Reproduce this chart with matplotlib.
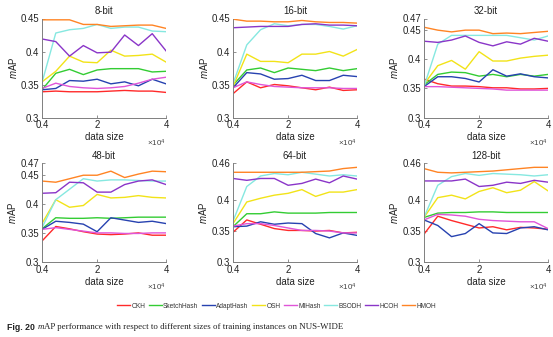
import numpy as np
import matplotlib
matplotlib.use('Agg')
import matplotlib.pyplot as plt

plt.rcParams['font.family'] = ['Liberation Sans', 'DejaVu Sans']
plt.rcParams['mathtext.fontset'] = 'custom'
plt.rcParams['mathtext.it'] = 'Liberation Sans:italic'
plt.rcParams['mathtext.rm'] = 'Liberation Sans'

# data sizes (x 10^4)
sizes = [0.4, 0.8, 1.2, 1.6, 2.0, 2.4, 2.8, 3.2, 3.6, 4.0]
methods = ['OKH', 'SketchHash', 'AdaptHash', 'OSH', 'MIHash', 'BSODH', 'HCOH', 'HMOH']
colors = ['#ff2a2a', '#33cc33', '#2742b0', '#f2e318', '#e055d8', '#86e8e0', '#8a35c8', '#ff8424']
titles = ['8-bit', '16-bit', '32-bit', '48-bit', '64-bit', '128-bit']
ytop = [0.45, 0.45, 0.47, 0.47, 0.46, 0.46]

map_8 = [
    [0.339, 0.340, 0.339, 0.339, 0.339, 0.340, 0.341, 0.340, 0.340, 0.338],
    [0.342, 0.367, 0.373, 0.365, 0.372, 0.374, 0.374, 0.374, 0.369, 0.370],
    [0.342, 0.344, 0.356, 0.355, 0.358, 0.351, 0.354, 0.348, 0.358, 0.351],
    [0.354, 0.370, 0.393, 0.384, 0.383, 0.402, 0.393, 0.394, 0.396, 0.384],
    [0.344, 0.352, 0.347, 0.345, 0.344, 0.345, 0.347, 0.352, 0.358, 0.361],
    [0.353, 0.428, 0.433, 0.435, 0.441, 0.435, 0.437, 0.437, 0.431, 0.430],
    [0.419, 0.415, 0.393, 0.409, 0.398, 0.399, 0.425, 0.409, 0.427, 0.401],
    [0.448, 0.448, 0.448, 0.441, 0.441, 0.438, 0.439, 0.440, 0.440, 0.435],
]
map_16 = [
    [0.336, 0.354, 0.345, 0.350, 0.348, 0.345, 0.342, 0.346, 0.341, 0.342],
    [0.349, 0.372, 0.375, 0.368, 0.375, 0.373, 0.371, 0.375, 0.371, 0.374],
    [0.345, 0.368, 0.366, 0.358, 0.359, 0.364, 0.356, 0.356, 0.364, 0.362],
    [0.347, 0.396, 0.385, 0.385, 0.383, 0.396, 0.396, 0.400, 0.393, 0.403],
    [0.345, 0.354, 0.350, 0.347, 0.346, 0.345, 0.345, 0.345, 0.344, 0.344],
    [0.351, 0.410, 0.433, 0.442, 0.439, 0.441, 0.441, 0.438, 0.434, 0.439],
    [0.436, 0.437, 0.438, 0.438, 0.438, 0.441, 0.442, 0.440, 0.440, 0.439],
    [0.449, 0.446, 0.446, 0.445, 0.445, 0.447, 0.445, 0.444, 0.444, 0.443],
]
map_32 = [
    [0.366, 0.358, 0.354, 0.354, 0.353, 0.351, 0.351, 0.349, 0.349, 0.350],
    [0.356, 0.374, 0.378, 0.377, 0.371, 0.374, 0.370, 0.374, 0.371, 0.374],
    [0.353, 0.370, 0.370, 0.367, 0.361, 0.382, 0.371, 0.375, 0.370, 0.368],
    [0.357, 0.389, 0.398, 0.383, 0.413, 0.397, 0.397, 0.402, 0.405, 0.407],
    [0.353, 0.353, 0.352, 0.351, 0.350, 0.349, 0.347, 0.347, 0.347, 0.347],
    [0.353, 0.426, 0.441, 0.441, 0.441, 0.441, 0.441, 0.437, 0.433, 0.440],
    [0.431, 0.429, 0.433, 0.440, 0.429, 0.423, 0.430, 0.426, 0.436, 0.431],
    [0.455, 0.450, 0.447, 0.450, 0.450, 0.444, 0.445, 0.444, 0.446, 0.448],
]
map_48 = [
    [0.336, 0.361, 0.357, 0.352, 0.348, 0.347, 0.348, 0.350, 0.346, 0.346],
    [0.357, 0.376, 0.375, 0.375, 0.376, 0.375, 0.376, 0.377, 0.377, 0.377],
    [0.356, 0.370, 0.368, 0.365, 0.352, 0.376, 0.372, 0.368, 0.370, 0.366],
    [0.366, 0.407, 0.394, 0.397, 0.416, 0.410, 0.411, 0.414, 0.411, 0.410],
    [0.356, 0.359, 0.356, 0.353, 0.350, 0.350, 0.349, 0.349, 0.350, 0.350],
    [0.359, 0.407, 0.425, 0.443, 0.439, 0.441, 0.441, 0.440, 0.439, 0.439],
    [0.418, 0.419, 0.437, 0.436, 0.420, 0.420, 0.433, 0.439, 0.441, 0.433],
    [0.439, 0.437, 0.443, 0.449, 0.449, 0.456, 0.445, 0.451, 0.456, 0.455],
]
map_64 = [
    [0.348, 0.368, 0.361, 0.354, 0.351, 0.351, 0.350, 0.351, 0.347, 0.348],
    [0.357, 0.378, 0.378, 0.381, 0.379, 0.379, 0.379, 0.380, 0.380, 0.380],
    [0.357, 0.358, 0.365, 0.361, 0.363, 0.362, 0.346, 0.339, 0.347, 0.343],
    [0.362, 0.397, 0.403, 0.408, 0.411, 0.417, 0.406, 0.413, 0.413, 0.417],
    [0.358, 0.362, 0.362, 0.359, 0.355, 0.351, 0.351, 0.350, 0.347, 0.347],
    [0.366, 0.422, 0.439, 0.443, 0.441, 0.445, 0.442, 0.439, 0.441, 0.439],
    [0.435, 0.432, 0.435, 0.435, 0.424, 0.427, 0.434, 0.428, 0.439, 0.434],
    [0.445, 0.445, 0.445, 0.445, 0.445, 0.445, 0.446, 0.447, 0.451, 0.453],
]
map_128 = [
    [0.345, 0.374, 0.367, 0.361, 0.355, 0.357, 0.352, 0.356, 0.355, 0.353],
    [0.372, 0.379, 0.380, 0.380, 0.381, 0.381, 0.380, 0.380, 0.380, 0.380],
    [0.368, 0.359, 0.341, 0.346, 0.362, 0.347, 0.346, 0.355, 0.357, 0.352],
    [0.372, 0.404, 0.408, 0.402, 0.414, 0.420, 0.412, 0.416, 0.430, 0.415],
    [0.368, 0.377, 0.376, 0.374, 0.369, 0.367, 0.366, 0.365, 0.365, 0.354],
    [0.372, 0.424, 0.438, 0.443, 0.440, 0.443, 0.442, 0.441, 0.439, 0.441],
    [0.431, 0.431, 0.431, 0.434, 0.422, 0.424, 0.429, 0.427, 0.432, 0.429],
    [0.451, 0.445, 0.444, 0.445, 0.446, 0.447, 0.449, 0.451, 0.453, 0.453],
]
all_maps = [map_8, map_16, map_32, map_48, map_64, map_128]

W, H = 553, 337
fig = plt.figure(figsize=(W / 100, H / 100), dpi=100)

col_left = [42, 233, 424]
row_top = [18.5, 163]
ax_w, ax_h = 124, 99

grey = '#7f7f7f'
fs = 6.9
for k in range(6):
    r, c = divmod(k, 3)
    ax = fig.add_axes([col_left[c] / W, 1 - (row_top[r] + ax_h) / H, ax_w / W, ax_h / H])
    for m in range(len(methods)):
        ax.plot(sizes, all_maps[k][m], color=colors[m], lw=1.0, label=methods[m])
    ax.set_xlim(0.4, 4)
    ax.set_ylim(0.3, ytop[k])
    yt = [0.3, 0.35, 0.4, 0.45] if ytop[k] != 0.46 else [0.3, 0.35, 0.4]
    if ytop[k] != 0.45:
        yt = yt + [ytop[k]]
    ax.set_yticks(yt)
    ax.set_yticklabels([('%g' % v) for v in yt])
    ax.set_xticks([0.4, 2, 4])
    ax.set_xticklabels(['0.4', '2', '4'])
    for s in ['top', 'right']:
        ax.spines[s].set_visible(False)
    for s in ['left', 'bottom']:
        ax.spines[s].set_color(grey)
        ax.spines[s].set_linewidth(0.7)
    ax.tick_params(direction='in', length=2, width=0.6, color=grey, labelsize=fs, pad=2,
                   labelcolor='#222222')
    ax.set_title(titles[k], fontsize=fs, pad=3, color='#222222')
    ax.set_xlabel('data size', fontsize=fs, labelpad=1.5, color='#222222')
    ax.set_ylabel(r'$\mathit{m}$AP', fontsize=fs, labelpad=1.5, color='#222222')
    ax.text(1.0, -0.2, r'$\times10^4$', transform=ax.transAxes, ha='right', va='top',
            fontsize=5.8, color='#444444')

handles, labels = ax.get_legend_handles_labels()
fig.legend(handles, labels, loc='center', bbox_to_anchor=(0.5, 1 - 306 / H), ncol=8,
           frameon=False, fontsize=4.7, handlelength=2.0, handletextpad=0.2,
           columnspacing=0.55, labelcolor='#333333')

# caption
cap_y = 1 - 327 / H
fig.text(7 / W, cap_y, 'Fig. 20', fontsize=6.3, fontweight='bold', va='center',
         family='Liberation Sans', color='#222222')
m_txt = fig.text(38 / W, cap_y, 'm', fontsize=6.4, style='italic', family='Liberation Serif',
                 va='center', color='#222222')
plt.annotate('AP performance with respect to different sizes of training instances on NUS-WIDE',
             xy=(1, 0.5), xycoords=m_txt, va='center', ha='left', fontsize=6.4,
             family='Liberation Serif', color='#222222', annotation_clip=False)

fig.savefig('out.png', dpi=100)
